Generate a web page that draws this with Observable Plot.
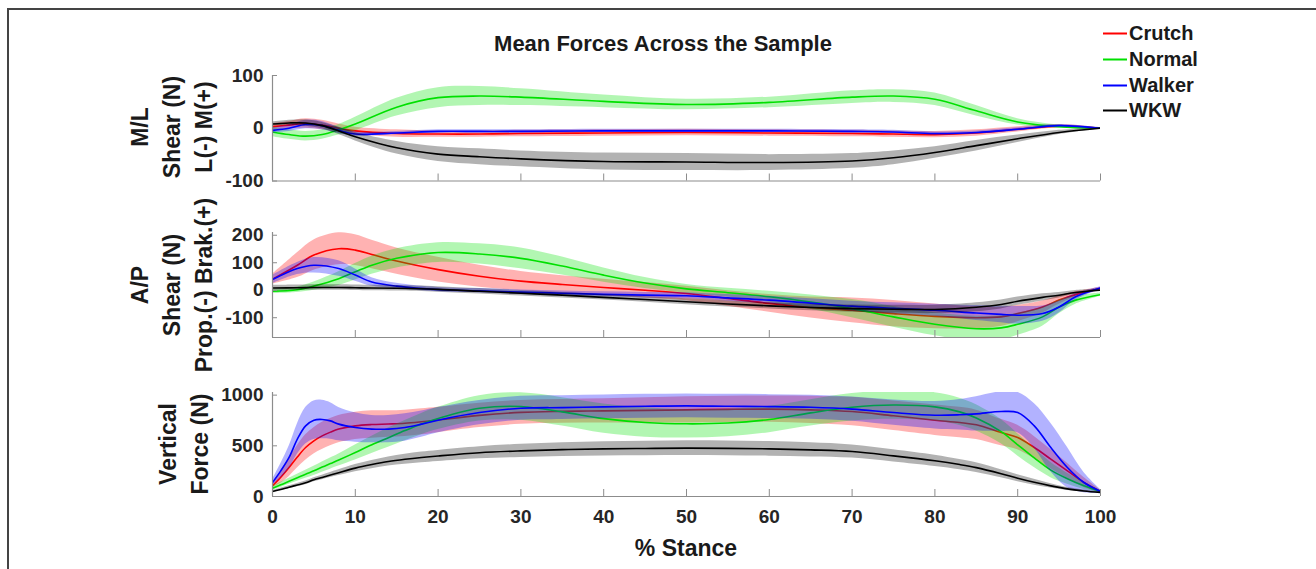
<!DOCTYPE html>
<html><head><meta charset="utf-8">
<script src="https://cdn.jsdelivr.net/npm/d3@7"></script>
<script src="https://cdn.jsdelivr.net/npm/@observablehq/plot@0.6"></script>
<style>
html,body{margin:0;padding:0;background:#fff;}
#fig{position:relative;width:1316px;height:569px;overflow:hidden;font-family:"Liberation Sans",Arial,Helvetica,sans-serif;font-weight:bold;color:#1a1a1a;}
#fig svg{position:absolute;left:0;overflow:visible;}
.ylab{position:absolute;transform:translate(-50%,-50%) rotate(-90deg);white-space:pre;text-align:center;font-size:23px;line-height:32px;}
.frame{position:absolute;left:7px;top:8px;width:1320px;height:600px;border-left:2px solid #444;border-top:2px solid #444;}
.title{position:absolute;left:663px;top:44px;transform:translate(-50%,-50%);font-size:22px;white-space:nowrap;}
.xlab{position:absolute;left:686px;top:548px;transform:translate(-50%,-50%);font-size:23px;white-space:nowrap;}
.leg{position:absolute;left:1103px;font-size:20px;white-space:nowrap;display:flex;align-items:center;transform:translateY(-50%);}
.leg i{display:inline-block;width:24px;height:2px;margin-right:2px;}
</style></head><body><div id="fig"></div>
<script>
// ---------- data ----------
const seriesNames = ["Crutch", "Normal", "Walker", "WKW"];
const seriesColors = ["#ff0000", "#00e000", "#0000ff", "#000000"];
const xTicks = [0, 10, 20, 30, 40, 50, 60, 70, 80, 90, 100];

// Panel 1: M/L shear
const p1X = [0,2,4,6,8,10,15,20,25,30,40,50,60,70,75,80,85,90,95,100];
const p1CrutchMean = [3,6,9,6,0,-5,-10,-11,-11,-10,-9,-8,-9,-10,-11,-12,-9,-2,4,0];
const p1CrutchSd   = [6,7,9,9,8,7,7,6,6,6,6,6,6,6,6,6,6,5,3,1];
const p1NormalMean = [-7,-12,-15,-12,-3,8,40,58,61,59,51,45,49,59,61,55,33,12,3,0];
const p1NormalSd   = [9,9,9,9,10,13,17,19,18,16,12,10,10,12,12,12,10,6,3,1];
const p1WalkerMean = [-4,0,7,5,-4,-11,-9,-6,-6,-6,-5,-5,-5,-6,-7,-10,-8,-2,5,0];
const p1WalkerSd   = [5,6,8,8,6,4,3,3,3,3,3,3,3,3,3,3,3,3,2,1];
const p1WkwMean    = [8,10,10,5,-5,-16,-37,-49,-54,-58,-63,-64,-65,-62,-56,-46,-33,-20,-8,0];
const p1WkwSd      = [4,5,6,6,7,8,12,14,15,15,16,16,15,14,13,11,10,7,4,1];
const p1YTicks = [-100, 0, 100];
const p1YDomain = [-100, 100];

// Panel 2: A/P shear
const p2X = [0,3,5,8,10,12,15,20,25,30,35,40,45,50,55,60,65,70,75,80,85,88,90,93,95,97,100];
const p2CrutchMean = [40,91,128,151,146,130,106,75,51,33,21,10,0,-12,-30,-48,-63,-73,-85,-95,-100,-97,-85,-61,-36,-16,6];
const p2CrutchSd   = [18,45,55,58,56,52,48,45,40,35,32,30,28,26,28,32,38,45,48,45,40,35,30,22,15,10,5];
const p2NormalMean = [-4,2,15,42,67,91,116,137,132,116,88,55,26,5,-9,-24,-43,-67,-97,-124,-140,-137,-124,-97,-61,-36,-16];
const p2NormalSd   = [8,10,15,25,30,33,35,36,37,38,33,26,20,16,16,20,26,33,38,42,45,44,40,34,25,15,6];
const p2WalkerMean = [39,79,91,79,55,30,15,2,-2,-7,-11,-15,-18,-20,-28,-36,-47,-58,-66,-73,-83,-88,-91,-85,-61,-24,8];
const p2WalkerSd   = [15,22,28,28,22,15,10,8,8,8,8,9,10,11,12,14,16,18,20,22,27,30,32,28,22,12,5];
const p2WkwMean    = [8,9,10,10,9,8,7,3,-4,-11,-18,-26,-34,-42,-50,-57,-63,-67,-69,-70,-62,-52,-40,-26,-18,-8,0];
const p2WkwSd      = [10,10,10,10,10,10,10,10,10,10,10,10,10,11,11,11,12,13,14,15,16,16,15,13,10,7,4];
const p2YTicks = [-100, 0, 100, 200];
const p2YDomain = [-172, 210];

// Panel 3: vertical force
const p3X = [0,1,2,3,4,5,6,7,8,10,12,14,16,18,20,25,30,35,40,45,50,55,60,65,70,75,80,83,85,88,90,92,94,96,98,100];
const p3CrutchMean = [105,190,286,390,483,549,598,635,665,697,710,715,722,737,755,800,830,840,845,850,855,860,862,855,838,796,753,730,707,631,582,483,369,253,138,50];
const p3CrutchSd   = [20,60,90,110,125,130,135,135,135,135,135,130,130,128,125,120,118,118,120,125,130,130,130,135,140,145,150,150,145,130,120,110,95,75,50,15];
const p3NormalMean = [82,115,150,185,220,253,290,325,360,434,510,580,650,715,770,870,888,835,768,730,717,725,760,825,880,902,884,835,775,640,510,380,260,175,105,50];
const p3NormalSd   = [20,25,30,35,40,45,50,55,60,75,85,95,100,105,110,125,135,140,145,145,140,135,130,130,135,140,140,135,130,120,110,95,75,55,35,10];
const p3WalkerMean = [138,253,385,566,697,753,760,746,714,681,665,665,681,714,753,828,871,877,884,890,894,890,887,880,862,828,802,806,815,838,828,697,483,286,138,50];
const p3WalkerSd   = [30,70,110,150,180,190,190,180,165,145,135,135,135,130,125,120,118,118,118,118,118,118,118,118,120,125,135,150,170,195,200,220,240,200,100,20];
const p3WkwMean    = [50,70,92,113,135,165,188,212,235,280,315,345,367,385,400,432,450,462,470,474,477,475,470,460,444,401,352,315,285,225,180,140,105,75,55,40];
const p3WkwSd      = [10,12,14,16,18,20,22,25,28,35,40,45,50,53,55,60,65,68,70,72,73,73,72,70,65,60,55,50,48,40,35,30,22,15,10,5];
const p3YTicks = [0, 500, 1000];
const p3YDomain = [0, 1026];

// ---------- drawing ----------
const fig = document.getElementById("fig");
const axisColor = "#8c8c8c";
const textColor = "#262626";
const FONT = '"Liberation Sans", Arial, Helvetica, sans-serif';

function panel({xs, means, sds, yDomain, yTicks, top, bottom, xLabels}) {
  const mt = 10, mb = xLabels ? 45 : 10;
  const height = bottom - top + mt + mb;
  const marks = [];
  seriesNames.forEach((name, i) => {
    const d = xs.map((x, j) => ({x, m: means[i][j], sd: sds[i][j]}));
    marks.push(Plot.areaY(d, {x: "x", y1: r => r.m - r.sd, y2: r => r.m + r.sd,
      fill: seriesColors[i], fillOpacity: 0.3, curve: "catmull-rom", clip: true}));
    marks.push(Plot.line(d, {x: "x", y: "m", stroke: seriesColors[i], strokeWidth: 1.6,
      curve: "catmull-rom", clip: true}));
  });
  marks.push(Plot.ruleX([0], {stroke: axisColor, strokeWidth: 1.2}));
  marks.push(Plot.ruleY([yDomain[0]], {stroke: axisColor, strokeWidth: 1.2}));
  marks.push(Plot.axisY({ticks: yTicks, tickSize: 5, dx: 5, tickFormat: () => "", color: axisColor, label: null}));
  marks.push(Plot.axisY({ticks: yTicks, tickSize: 0, tickPadding: 9, color: textColor,
    fontSize: 19, fontWeight: "bold", tickFormat: d => String(d), label: null}));
  marks.push(Plot.axisX({ticks: xTicks, tickSize: 7, dy: -7, tickFormat: () => "", color: axisColor, label: null}));
  if (xLabels) {
    marks.push(Plot.axisX({ticks: xTicks, tickSize: 0, tickPadding: 13, color: textColor,
      fontSize: 19, fontWeight: "bold", tickFormat: d => String(d), label: null}));
  }
  const svg = Plot.plot({
    width: 1316, height,
    marginLeft: 272, marginRight: 216, marginTop: mt, marginBottom: mb,
    x: {domain: [0, 100], label: null},
    y: {domain: yDomain, label: null},
    style: {fontFamily: FONT, fontWeight: "bold", background: "transparent", overflow: "visible"},
    marks
  });
  svg.style.top = (top - mt) + "px";
  fig.appendChild(svg);
}

const frame = document.createElement("div");
frame.className = "frame";
fig.appendChild(frame);

panel({xs: p1X, means: [p1CrutchMean, p1NormalMean, p1WalkerMean, p1WkwMean],
  sds: [p1CrutchSd, p1NormalSd, p1WalkerSd, p1WkwSd], yDomain: p1YDomain, yTicks: p1YTicks,
  top: 74.5, bottom: 180, xLabels: false});
panel({xs: p2X, means: [p2CrutchMean, p2NormalMean, p2WalkerMean, p2WkwMean],
  sds: [p2CrutchSd, p2NormalSd, p2WalkerSd, p2WkwSd], yDomain: p2YDomain, yTicks: p2YTicks,
  top: 232, bottom: 337, xLabels: false});
panel({xs: p3X, means: [p3CrutchMean, p3NormalMean, p3WalkerMean, p3WkwMean],
  sds: [p3CrutchSd, p3NormalSd, p3WalkerSd, p3WkwSd], yDomain: p3YDomain, yTicks: p3YTicks,
  top: 391.7, bottom: 495.7, xLabels: true});

function addDiv(cls, text, style) {
  const el = document.createElement("div");
  el.className = cls;
  el.textContent = text;
  Object.assign(el.style, style || {});
  fig.appendChild(el);
  return el;
}
addDiv("title", "Mean Forces Across the Sample");
addDiv("xlab", "% Stance");
addDiv("ylab", "M/L\nShear (N)\nL(-) M(+)", {left: "172px", top: "127px"});
addDiv("ylab", "A/P\nShear (N)\nProp.(-) Brak.(+)", {left: "172px", top: "285px"});
addDiv("ylab", "Vertical\nForce (N)", {left: "183.5px", top: "444px"});

const legendY = [33, 59, 85, 110];
seriesNames.forEach((name, i) => {
  const el = document.createElement("div");
  el.className = "leg";
  el.style.top = legendY[i] + "px";
  const sw = document.createElement("i");
  sw.style.background = seriesColors[i];
  el.appendChild(sw);
  el.appendChild(document.createTextNode(name));
  fig.appendChild(el);
});
</script></body></html>
